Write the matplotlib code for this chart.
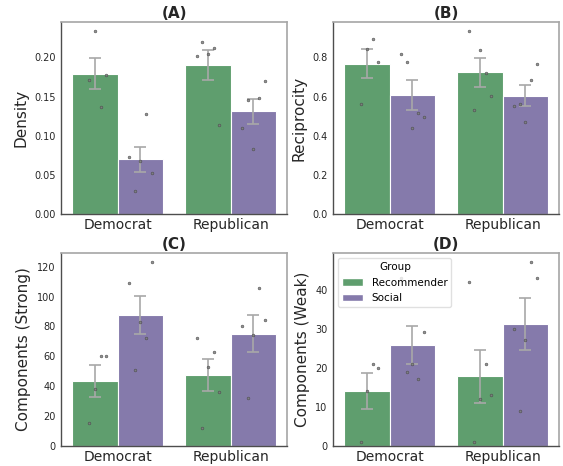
import colorsys
import numpy as np
import matplotlib
matplotlib.use("Agg")
import matplotlib.pyplot as plt
import matplotlib.colors as mcolors
from matplotlib.patches import Patch

# ---------------- data ----------------
categories = ["Democrat", "Republican"]
groups = ["Recommender", "Social"]

density_dem_rec = [0.2331, 0.1707, 0.1771, 0.1367]
density_dem_soc = [0.0735, 0.0675, 0.1274, 0.0527, 0.0293]
density_rep_rec = [0.2200, 0.2017, 0.2047, 0.2123, 0.1142]
density_rep_soc = [0.1703, 0.1456, 0.1482, 0.1096, 0.0828]

recip_dem_rec = [0.895, 0.8425, 0.776, 0.5605]
recip_dem_soc = [0.817, 0.776, 0.5146, 0.494, 0.44]
recip_rep_rec = [0.9325, 0.8357, 0.7202, 0.6013, 0.5316]
recip_rep_soc = [0.7643, 0.6828, 0.5605, 0.5503, 0.4705]

strong_dem_rec = [60, 60, 38, 15]
strong_dem_soc = [123, 109, 83, 72, 51]
strong_rep_rec = [72, 63, 53, 36, 12]
strong_rep_soc = [106, 84, 80, 74, 32]

weak_dem_rec = [21, 20, 14, 1]
weak_dem_soc = [43, 29, 21, 19, 17]
weak_rep_rec = [42, 21, 13, 12, 1]
weak_rep_soc = [47, 43, 30, 27, 9]

# strip-plot jitter offsets (x offsets within each bar)
jit_density = [[0, -0.05, 0.1, 0.05], [-0.1, 0, 0.05, 0.1, -0.05],
               [-0.05, -0.1, 0, 0.05, 0.1], [0.1, -0.05, 0.05, -0.1, 0]]
jit_recip = [[0.05, 0, 0.1, -0.05], [-0.1, -0.05, 0.05, 0.1, 0],
             [-0.1, 0, 0.05, 0.1, -0.05], [0.1, 0.05, -0.05, -0.1, 0]]
jit_strong = [[0.05, 0.1, 0, -0.05], [0.1, -0.1, 0, 0.05, -0.05],
              [-0.1, 0.05, 0, 0.1, -0.05], [0.05, 0.1, -0.1, 0, -0.05]]
jit_weak = [[0.05, 0.1, 0, -0.05], [-0.1, 0.1, 0, -0.05, 0.05],
            [-0.1, 0.05, 0.1, 0, -0.05], [0.05, 0.1, -0.1, 0, -0.05]]

panels = [
    ("(A)", "Density", [density_dem_rec, density_dem_soc, density_rep_rec, density_rep_soc], jit_density),
    ("(B)", "Reciprocity", [recip_dem_rec, recip_dem_soc, recip_rep_rec, recip_rep_soc], jit_recip),
    ("(C)", "Components (Strong)", [strong_dem_rec, strong_dem_soc, strong_rep_rec, strong_rep_soc], jit_strong),
    ("(D)", "Components (Weak)", [weak_dem_rec, weak_dem_soc, weak_rep_rec, weak_rep_soc], jit_weak),
]


def desaturate(c, prop):
    r, g, b = mcolors.to_rgb(c)
    h, l, s = colorsys.rgb_to_hls(r, g, b)
    return colorsys.hls_to_rgb(h, l, s * prop)


colors = [desaturate("#55A868", 0.75), desaturate("#8172B3", 0.75)]

plt.rcParams["font.family"] = ["DejaVu Sans"]
fig = plt.figure(figsize=(5.63, 4.66), dpi=100)

positions = [
    [0.1083, 0.5401, 0.4020, 0.4120],
    [0.5915, 0.5401, 0.4020, 0.4120],
    [0.1083, 0.0436, 0.4020, 0.4134],
    [0.5915, 0.0436, 0.4020, 0.4134],
]

width = 0.4
for (title, ylabel, series, jits), pos in zip(panels, positions):
    ax = fig.add_axes(pos)
    k = 0
    for ci, cat in enumerate(categories):
        for gi, grp in enumerate(groups):
            vals = np.array(series[k], dtype=float)
            x = ci + (gi - 0.5) * width
            m = vals.mean()
            se = vals.std(ddof=1) / np.sqrt(len(vals))
            ax.bar(x, m, width=width, color=colors[gi], edgecolor="white",
                   linewidth=0.8, zorder=1)
            ax.errorbar(x, m, yerr=se, color="0.66", lw=1.2, capsize=4.3,
                        capthick=1.2, zorder=2)
            ax.plot(x + np.array(jits[k]), vals, "o", ms=1.9, mfc="0.5",
                    mec="0.3", mew=0.5, alpha=0.85, ls="none", zorder=3)
            k += 1
    ax.set_xlim(-0.5, 1.5)
    ax.set_ylim(0, max(max(s) for s in series) * 1.05)
    ax.set_xticks(range(len(categories)))
    ax.set_xticklabels(categories, fontsize=10, color="0.15")
    ax.tick_params(axis="y", labelsize=7, colors="0.15", length=0, pad=4)
    ax.tick_params(axis="x", length=0, pad=3)
    ax.set_ylabel(ylabel, fontsize=11, color="0.15")
    ax.set_title(title, fontsize=11, fontweight="bold", pad=3, color="0.15")
    for side in ["top", "right"]:
        ax.spines[side].set_color("0.65")
        ax.spines[side].set_linewidth(1.2)
    for side in ["left", "bottom"]:
        ax.spines[side].set_color("0.3")
        ax.spines[side].set_linewidth(1.0)
    if title == "(D)":
        handles = [Patch(facecolor=colors[i], edgecolor="white", label=g)
                   for i, g in enumerate(groups)]
        leg = ax.legend(handles=handles, title="Group", loc="upper left",
                        fontsize=7.5, title_fontsize=7.5, frameon=True,
                        fancybox=True)
        leg.get_frame().set_edgecolor("0.85")

fig.savefig("out.png", dpi=100)
